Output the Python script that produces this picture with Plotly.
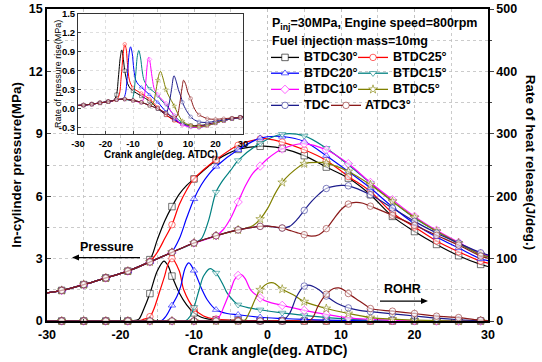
import plotly.graph_objects as go

W, H = 542, 362
ML, MR, MT, MB = 47, 54, 9, 40.5
PW = W - ML - MR
PH = H - MT - MB
FONT = 'Liberation Sans, Arial, sans-serif'


def pxx(x):
    return (x - ML) / PW


def pxy(y):
    return (H - MB - y) / PH


# ---------------- data ----------------
NAMES = ['BTDC30°', 'BTDC25°', 'BTDC20°', 'BTDC15°', 'BTDC10°', 'BTDC5°', 'TDC', 'ATDC3°']
COLORS = ['#000000', '#FF0000', '#0000FF', '#008080', '#FF00FF', '#808000', '#1C1C8C', '#8B1A1A']
SYMBOLS = ['square', 'circle', 'triangle-up', 'triangle-down', 'diamond', 'star', 'circle', 'circle']
MARKER_ANGLES = [-28, -25, -22, -19, -16, -13, -10, -7, -4, -1, 2, 5, 8, 11, 14, 17, 20, 23, 26, 29]
X_TICKS = [-30, -20, -10, 0, 10, 20, 30]
X_TICK_TEXT = ['-30', '-20', '-10', '0', '10', '20', '30']
INSET_Y_TICKS = [-0.3, 0.0, 0.3, 0.6, 0.9, 1.2, 1.5]
INSET_Y_TEXT = ['-0.3', '0.0', '0.3', '0.6', '0.9', '1.2', '1.5']

# motored (common) part - in-cylinder pressure, MPa
MOT_X = [-30, -28, -25, -22, -19, -16, -13, -10, -7, -4, -1, 0, 2]
MOT_P = [1.35, 1.47, 1.75, 2.07, 2.40, 2.84, 3.30, 3.75, 4.10, 4.38, 4.55, 4.56, 4.47]
MOT_R = [0, 0, 0, 0, 0, 0, 0, 0, 0, 0, 0, 0, 0]

# pressure after start of combustion
P30_X = [-17.5, -16, -15, -14, -13, -12, -11, -10, -7, -4, -1, 0, 2, 5, 8, 11, 14, 17, 20, 23, 26, 29, 30]
P30_Y = [2.60, 2.95, 3.90, 4.80, 5.50, 6.10, 6.52, 6.83, 7.72, 8.25, 8.40, 8.40, 8.30, 7.95, 7.40, 6.87, 6.07, 5.03, 4.30, 3.68, 3.14, 2.72, 2.62]
P25_X = [-16.5, -16, -15, -14, -13, -12, -11, -10, -7, -4, -1, 0, 2, 5, 8, 11, 14, 17, 20, 23, 26, 29, 30]
P25_Y = [2.77, 2.86, 3.30, 3.95, 4.63, 5.60, 6.30, 6.83, 7.75, 8.45, 8.75, 8.76, 8.60, 8.23, 7.72, 6.95, 6.23, 5.19, 4.52, 3.85, 3.33, 2.88, 2.78]
P20_X = [-13.5, -13, -12, -11, -10, -9, -8, -7, -4, -1, 2, 5, 8, 11, 14, 17, 20, 23, 26, 29, 30]
P20_Y = [3.22, 3.33, 3.95, 4.95, 5.87, 6.55, 7.05, 7.43, 8.23, 8.79, 8.87, 8.63, 7.95, 7.19, 6.39, 5.48, 4.68, 4.04, 3.51, 2.99, 2.90]
P15_X = [-10, -9, -8, -7, -6, -5, -4, -1, 2, 5, 8, 11, 14, 17, 20, 23, 26, 29, 30]
P15_Y = [3.75, 3.95, 4.85, 6.20, 6.80, 7.25, 7.72, 8.55, 8.98, 8.90, 8.31, 7.51, 6.63, 5.75, 4.95, 4.31, 3.72, 3.20, 3.10]
P10_X = [-7, -6, -5, -4, -3, -2, -1, 0, 2, 5, 8, 11, 14, 17, 20, 23, 26, 29, 30]
P10_Y = [4.10, 4.40, 4.95, 5.72, 6.50, 7.10, 7.45, 7.80, 8.27, 8.52, 8.23, 7.56, 6.66, 5.83, 5.03, 4.36, 3.78, 3.24, 3.14]
P5_X = [-3, -2, -1, 0, 1, 2, 3, 5, 7, 8, 11, 14, 17, 20, 23, 26, 29, 30]
P5_Y = [4.46, 4.58, 4.90, 5.40, 6.10, 6.66, 7.05, 7.56, 7.63, 7.59, 7.19, 6.55, 5.75, 4.98, 4.31, 3.75, 3.19, 3.10]
P0_X = [3, 4, 5, 6, 7, 8, 10, 11, 14, 17, 20, 23, 26, 29, 30]
P0_Y = [4.55, 4.87, 5.32, 5.75, 6.10, 6.37, 6.52, 6.50, 6.07, 5.43, 4.79, 4.23, 3.74, 3.28, 3.18]
PA3_X = [3, 4, 5, 6, 7, 8, 9, 10, 11, 12, 13, 14, 17, 20, 23, 26, 29, 30]
PA3_Y = [4.36, 4.25, 4.15, 4.08, 4.15, 4.44, 4.90, 5.35, 5.62, 5.70, 5.66, 5.52, 5.08, 4.60, 4.12, 3.65, 3.12, 3.02]

# rate of heat release, J/deg
R30_X = [-19, -18, -17.5, -16.8, -16, -15, -14.1, -13.5, -13, -12, -11, -10, -9, -8, -7, -4, -1, 2, 5, 8, 11, 14, 17, 20, 23, 26, 29, 30]
R30_Y = [0, 1, 3, 20, 44, 80, 96, 88, 72, 45, 26, 13, 6, 3, 2, 1, 0.5, 0.3, 0, 0, 0, 0, 0, 0, 0, 0, 0, 0]
R25_X = [-17.5, -17, -16, -15.5, -14.6, -14, -13.5, -13, -12, -11.4, -10, -8.7, -7, -4, -1, 2, 5, 8, 11, 14, 17, 20, 23, 26, 29, 30]
R25_Y = [0, 2, 7, 18, 50, 72, 92, 100, 80, 50, 20, 8, 3, 1, 0.5, 0.3, 0, 0, 0, 0, 0, 0, 0, 0, 0, 0]
R20_X = [-14.5, -13.8, -13, -12.3, -11.8, -11.2, -10.7, -10, -8.9, -8.2, -7, -5.5, -4, -1, 2, 5, 8, 11, 14, 17, 20, 23, 26, 29, 30]
R20_Y = [0, 8, 25, 40, 56, 85, 93, 81, 50, 34, 18, 12, 10, 6, 4, 2.5, 1.5, 0.8, 0.3, 0, 0, 0, 0, 0, 0]
R15_X = [-11.2, -10.5, -10, -9.3, -8.7, -7.8, -7, -6, -5.5, -4.6, -4, -2.5, -1, 2, 5, 8, 11, 14, 17, 20, 23, 26, 29, 30]
R15_Y = [0, 8, 22, 50, 72, 84, 77, 57, 45, 32, 26, 21, 18, 13, 9, 5.5, 3, 1.5, 0.8, 0.3, 0, 0, 0, 0]
R10_X = [-7.3, -7, -6.5, -5.9, -5, -4.5, -4, -3.5, -3, -2.3, -1, 0, 2, 5, 8, 11, 14, 17, 20, 23, 26, 29, 30]
R10_Y = [0, 2, 8, 24, 50, 66, 73, 74, 67, 50, 37, 31, 25, 17, 10.5, 5, 2.5, 1, 0.5, 0, 0, 0, 0]
R5_X = [-3.3, -3, -2.3, -1.6, -1, 0, 0.8, 2, 3.5, 5, 8, 11, 14, 17, 20, 23, 26, 29, 30]
R5_Y = [0, 2, 18, 37, 50, 60, 61, 51, 42, 31, 20, 12, 5.5, 3, 1.5, 0.5, 0, 0, 0]
R0_X = [2, 3, 4, 5, 5.8, 7, 8, 9.5, 11, 12.5, 14, 17, 20, 23, 26, 29, 30]
R0_Y = [0, 12, 40, 56, 57, 50, 40, 28, 21, 17, 15, 11.5, 8, 4.5, 2, 0.5, 0.3]
RA3_X = [5.6, 6.2, 6.8, 7.5, 8, 9, 9.7, 10.5, 11, 12.5, 13.5, 14, 17, 20, 23, 26, 29, 30]
RA3_Y = [0, 6, 22, 36, 43, 52, 53, 49, 44, 32, 24, 20, 15.7, 12, 7.7, 5.5, 1.3, 0.5]

# inset: rate of pressure rise, MPa/deg
IMOT_X = [-30, -28, -25, -22, -19, -16, -14, -13, -10, -7, -4, -1, 2, 5]
IMOT_Y = [0.05, 0.055, 0.07, 0.09, 0.11, 0.14, 0.15, 0.15, 0.13, 0.10, 0.05, 0.0, -0.07, -0.14]
I30_X = [-17, -16, -15.3, -14.6, -14.1, -13.5, -13, -12, -11, -10, -7, -4, -1, 2, 5, 8, 11, 14, 17, 20, 23, 26, 29, 30]
I30_Y = [0.13, 0.22, 0.50, 0.82, 0.93, 0.78, 0.60, 0.40, 0.32, 0.28, 0.20, 0.12, 0.0, -0.10, -0.18, -0.24, -0.27, -0.27, -0.25, -0.22, -0.19, -0.16, -0.14, -0.13]
I25_X = [-16, -15, -14.3, -13.6, -13, -12.5, -12, -11.3, -10, -7, -4, -1, 2, 5, 8, 11, 14, 17, 20, 23, 26, 29, 30]
I25_Y = [0.14, 0.22, 0.50, 0.85, 1.02, 0.95, 0.70, 0.45, 0.33, 0.24, 0.15, 0.02, -0.10, -0.19, -0.25, -0.28, -0.28, -0.26, -0.22, -0.19, -0.16, -0.14, -0.13]
I20_X = [-13.5, -12.7, -12, -11.4, -10.9, -10.3, -9.7, -9, -8, -7, -5, -4, -1, 2, 5, 8, 11, 14, 17, 20, 23, 26, 29, 30]
I20_Y = [0.15, 0.25, 0.55, 0.88, 0.98, 0.88, 0.62, 0.45, 0.38, 0.34, 0.26, 0.22, 0.10, -0.05, -0.17, -0.25, -0.29, -0.29, -0.26, -0.23, -0.19, -0.16, -0.14, -0.13]
I15_X = [-10.5, -9.8, -9, -8.4, -7.9, -7.3, -6.6, -6, -5, -4, -2, -1, 1, 2, 5, 8, 11, 14, 17, 20, 23, 26, 29, 30]
I15_Y = [0.13, 0.22, 0.55, 0.84, 0.92, 0.82, 0.58, 0.45, 0.37, 0.32, 0.25, 0.20, 0.10, 0.06, -0.11, -0.23, -0.29, -0.30, -0.27, -0.23, -0.19, -0.16, -0.14, -0.13]
I10_X = [-7, -6, -5.3, -4.8, -4.3, -4, -3, -2.2, -1, 0.8, 2, 3.9, 5, 6.9, 8, 11, 14, 17, 20, 23, 26, 29, 30]
I10_Y = [0.10, 0.18, 0.45, 0.70, 0.81, 0.78, 0.48, 0.30, 0.22, 0.13, 0.08, -0.05, -0.11, -0.23, -0.26, -0.29, -0.30, -0.27, -0.23, -0.19, -0.16, -0.14, -0.13]
I5_X = [-3.5, -2.5, -1.8, -1, -0.5, 0, 0.8, 1.5, 2, 3, 3.9, 5, 6.3, 8, 11, 13, 14, 17, 20, 23, 26, 29, 30]
I5_Y = [0.04, 0.10, 0.25, 0.45, 0.55, 0.59, 0.50, 0.38, 0.30, 0.20, 0.13, 0.04, -0.08, -0.20, -0.27, -0.29, -0.29, -0.27, -0.23, -0.19, -0.16, -0.14, -0.13]
I0_X = [2, 3, 4, 4.9, 5.8, 6.5, 7.5, 8, 9.4, 11, 12, 14, 17, 20, 23, 26, 29, 30]
I0_Y = [-0.07, 0.05, 0.30, 0.52, 0.42, 0.30, 0.18, 0.10, -0.03, -0.13, -0.17, -0.21, -0.22, -0.20, -0.18, -0.16, -0.14, -0.13]
IA3_X = [5, 6, 7, 7.8, 8.4, 9.2, 10, 11, 12, 13, 14, 15.4, 17, 20, 23, 26, 29, 30]
IA3_Y = [-0.14, -0.12, 0.08, 0.32, 0.45, 0.38, 0.25, 0.16, 0.03, -0.05, -0.10, -0.13, -0.16, -0.17, -0.16, -0.15, -0.14, -0.13]

P_SETS = [(P30_X, P30_Y), (P25_X, P25_Y), (P20_X, P20_Y), (P15_X, P15_Y),
          (P10_X, P10_Y), (P5_X, P5_Y), (P0_X, P0_Y), (PA3_X, PA3_Y)]
R_SETS = [(R30_X, R30_Y), (R25_X, R25_Y), (R20_X, R20_Y), (R15_X, R15_Y),
          (R10_X, R10_Y), (R5_X, R5_Y), (R0_X, R0_Y), (RA3_X, RA3_Y)]
I_SETS = [(I30_X, I30_Y), (I25_X, I25_Y), (I20_X, I20_Y), (I15_X, I15_Y),
          (I10_X, I10_Y), (I5_X, I5_Y), (I0_X, I0_Y), (IA3_X, IA3_Y)]


# ---------------- helpers ----------------
def join(bx, by, x, y):
    pre = [(a, b) for a, b in zip(bx, by) if a < x[0]]
    return [p[0] for p in pre] + list(x), [p[1] for p in pre] + list(y)


def at_markers(x, y):
    sx, sy = [], []
    for a, b in zip(x, y):
        if any(abs(a - m) < 1e-6 for m in MARKER_ANGLES):
            sx.append(a)
            sy.append(b)
    return sx, sy


def tint(hexc, alpha):
    h = hexc.lstrip('#')
    r, g, b = int(h[0:2], 16), int(h[2:4], 16), int(h[4:6], 16)
    return f'rgba({r},{g},{b},{alpha})'


fig = go.Figure()

for i in range(8):
    c, s = COLORS[i], SYMBOLS[i]
    # pressure
    x, y = join(MOT_X, MOT_P, *P_SETS[i])
    fig.add_trace(go.Scatter(x=x, y=y, mode='lines', line=dict(color=c, width=1.2, shape='spline', smoothing=0.9),
                             xaxis='x', yaxis='y', showlegend=False, hoverinfo='skip'))
    mx, my = at_markers(x, y)
    fig.add_trace(go.Scatter(x=mx, y=my, mode='markers', xaxis='x', yaxis='y', showlegend=False, cliponaxis=False,
                             marker=dict(symbol=s, size=6.5, color='rgba(255,255,255,0.6)',
                                         line=dict(color=tint(c, 0.55), width=1))))
    # ROHR
    x, y = join(MOT_X, MOT_R, *R_SETS[i])
    fig.add_trace(go.Scatter(x=x, y=y, mode='lines', line=dict(color=c, width=1.2, shape='spline', smoothing=0.9),
                             xaxis='x', yaxis='y2', showlegend=False, hoverinfo='skip'))
    mx, my = at_markers(x, y)
    fig.add_trace(go.Scatter(x=mx, y=my, mode='markers', xaxis='x', yaxis='y2', showlegend=False, cliponaxis=False,
                             marker=dict(symbol=s, size=6.5, color='rgba(255,255,255,0.6)',
                                         line=dict(color=tint(c, 0.55), width=1))))
    # inset
    x, y = join(IMOT_X, IMOT_Y, *I_SETS[i])
    fig.add_trace(go.Scatter(x=x, y=y, mode='lines', line=dict(color=c, width=1, shape='spline', smoothing=0.9),
                             xaxis='x3', yaxis='y3', showlegend=False, hoverinfo='skip'))
    mx, my = at_markers(x, y)
    fig.add_trace(go.Scatter(x=mx, y=my, mode='markers', xaxis='x3', yaxis='y3', showlegend=False,
                             marker=dict(symbol=s, size=3.5, color='rgba(255,255,255,0.5)',
                                         line=dict(color=tint(c, 0.5), width=0.8))))

# ---------------- legend (pixel overlay axes) ----------------
LEG_ROWS = [57.5, 73.3, 89.5, 105.5]
LEG_POS = [  # (line x0, line x1, marker x, text x, row)
    (271, 299, 285, 302, 0), (358, 388, 373, 391, 0),
    (271, 299, 285, 302, 1), (358, 388, 373, 391, 1),
    (271, 299, 285, 302, 2), (358, 388, 373, 391, 2),
    (271, 299, 285, 302, 3), (331, 361, 346, 363, 3),
]
annotations = []
for i, (x0, x1, xm, xt, r) in enumerate(LEG_POS):
    yy = LEG_ROWS[r]
    fig.add_trace(go.Scatter(x=[x0, x1], y=[yy, yy], mode='lines', xaxis='x4', yaxis='y4', showlegend=False,
                             line=dict(color=COLORS[i], width=1.3), hoverinfo='skip'))
    fig.add_trace(go.Scatter(x=[xm], y=[yy], mode='markers', xaxis='x4', yaxis='y4', showlegend=False,
                             marker=dict(symbol=SYMBOLS[i], size=6.5, color='white',
                                         line=dict(color=tint(COLORS[i], 0.6), width=1)), hoverinfo='skip'))
    annotations.append(dict(x=pxx(xt), y=pxy(yy), xref='paper', yref='paper', text=NAMES[i],
                            showarrow=False, xanchor='left', yanchor='middle',
                            font=dict(family=FONT, size=12.5, color='black', weight='bold')))

annotations += [
    dict(x=pxx(270), y=pxy(24.5), xref='paper', yref='paper', xanchor='left', yanchor='middle', showarrow=False,
         text='P<sub>inj</sub>=30MPa, Engine speed=800rpm',
         font=dict(family=FONT, size=12.5, color='black', weight='bold')),
    dict(x=pxx(270), y=pxy(41.5), xref='paper', yref='paper', xanchor='left', yanchor='middle', showarrow=False,
         text='Fuel injection mass=10mg', font=dict(family=FONT, size=12.5, color='black', weight='bold')),
    # axis titles
    dict(x=pxx(267.5), y=pxy(351), xref='paper', yref='paper', xanchor='center', yanchor='middle', showarrow=False,
         text='Crank angle(deg. ATDC)', font=dict(family=FONT, size=14, color='black', weight='bold')),
    dict(x=pxx(17), y=pxy(165), xref='paper', yref='paper', xanchor='center', yanchor='middle', showarrow=False,
         textangle=-90, text='In-cylinder pressure(MPa)', font=dict(family=FONT, size=13.5, color='black', weight='bold')),
    dict(x=pxx(530), y=pxy(163), xref='paper', yref='paper', xanchor='center', yanchor='middle', showarrow=False,
         textangle=90, text='Rate of heat release(J/deg.)', font=dict(family=FONT, size=13.5, color='black', weight='bold')),
    # inset titles
    dict(x=pxx(160.5), y=pxy(155), xref='paper', yref='paper', xanchor='center', yanchor='middle', showarrow=False,
         text='Crank angle(deg. ATDC)', font=dict(family=FONT, size=10, color='black', weight='bold')),
    dict(x=pxx(58), y=pxy(74), xref='paper', yref='paper', xanchor='center', yanchor='middle', showarrow=False,
         textangle=-90, text='Rate of pressure rise(MPa)', font=dict(family=FONT, size=9, color='black')),
    # Pressure / ROHR labels
    dict(x=pxx(107), y=pxy(247), xref='paper', yref='paper', xanchor='center', yanchor='middle', showarrow=False,
         text='Pressure', font=dict(family=FONT, size=12.5, color='black', weight='bold')),
    dict(x=pxx(402.5), y=pxy(289.5), xref='paper', yref='paper', xanchor='center', yanchor='middle', showarrow=False,
         text='ROHR', font=dict(family=FONT, size=12.5, color='black', weight='bold')),
]


def arrow_shapes(x_tail, x_head, yy):
    d = 1 if x_head > x_tail else -1
    hl, hw = 7, 3
    line = dict(type='line', xref='paper', yref='paper', x0=pxx(x_tail), x1=pxx(x_head - d * hl * 0.6),
                y0=pxy(yy), y1=pxy(yy), line=dict(color='black', width=1.2))
    path = 'M {} {} L {} {} L {} {} Z'.format(pxx(x_head), pxy(yy), pxx(x_head - d * hl), pxy(yy - hw),
                                              pxx(x_head - d * hl), pxy(yy + hw))
    head = dict(type='path', xref='paper', yref='paper', path=path, fillcolor='black', line=dict(width=0))
    return [line, head]


shapes = arrow_shapes(140, 72, 258) + arrow_shapes(380, 428, 301.5)

GRID = 'rgba(190,190,190,0.8)'
TICKF = dict(family=FONT, size=12.5, color='black', weight='bold')
INSF = dict(family=FONT, size=9.5, color='black', weight='bold')

fig.update_layout(
    template='none',
    width=W, height=H, margin=dict(l=ML, r=MR, t=MT, b=MB, pad=0, autoexpand=False),
    paper_bgcolor='white', plot_bgcolor='white', showlegend=False,
    font=dict(family=FONT, color='black'),
    xaxis=dict(range=[-30, 30], tickmode='array', tickvals=X_TICKS, ticktext=X_TICK_TEXT,
               ticks='inside', ticklen=4, tickwidth=1.2, automargin=False,
               showline=True, linewidth=1.5, linecolor='black', mirror=True,
               showgrid=True, gridcolor=GRID, griddash='dot', gridwidth=0.8, zeroline=False,
               minor=dict(dtick=5, tick0=0, ticks='inside', ticklen=2.5, showgrid=True, gridcolor=GRID, griddash='dot'),
               tickfont=TICKF, ticklabelstandoff=1),
    yaxis=dict(range=[0, 15], dtick=3, ticks='inside', ticklen=4, tickwidth=1.2, automargin=False,
               showline=True, linewidth=1.5, linecolor='black', mirror=True,
               showgrid=True, gridcolor=GRID, griddash='dot', gridwidth=0.8, zeroline=False,
               minor=dict(dtick=1.5, ticks='inside', ticklen=2.5, showgrid=True, gridcolor=GRID, griddash='dot'),
               tickfont=TICKF),
    yaxis2=dict(range=[0, 500], dtick=100, overlaying='y', side='right', ticks='outside', ticklen=4, tickwidth=1.2,
                showline=True, linewidth=1.5, linecolor='black', showgrid=False, zeroline=False, automargin=False,
                minor=dict(dtick=50, ticks='outside', ticklen=2.5),
                tickfont=TICKF),
    xaxis3=dict(domain=[pxx(78), pxx(243)], anchor='y3', range=[-30, 30], tickmode='array', tickvals=X_TICKS,
                ticktext=X_TICK_TEXT, automargin=False,
                ticks='inside', ticklen=2.5, showline=True, linewidth=1, linecolor='#333333', mirror=True,
                showgrid=True, gridcolor='rgba(215,215,215,0.8)', griddash='dot', zeroline=False, tickfont=INSF,
                ticklabelstandoff=1),
    yaxis3=dict(domain=[pxy(134), pxy(14)], anchor='x3', range=[-0.4, 1.5], tickmode='array',
                tickvals=INSET_Y_TICKS, ticktext=INSET_Y_TEXT,
                ticks='inside', ticklen=2.5, showline=True, linewidth=1, linecolor='#333333', mirror=True,
                automargin=False,
                showgrid=True, gridcolor='rgba(215,215,215,0.8)', griddash='dot', zeroline=False, tickfont=INSF),
    xaxis4=dict(overlaying='x', anchor='y4', range=[ML, W - MR], visible=False, automargin=False),
    yaxis4=dict(overlaying='y', anchor='x4', range=[H - MB, MT], visible=False, automargin=False),
    annotations=annotations,
    shapes=shapes,
)

fig.write_html('out.html', config={'displayModeBar': False},
               post_script="document.body.style.margin='0';document.body.style.padding='0';")
